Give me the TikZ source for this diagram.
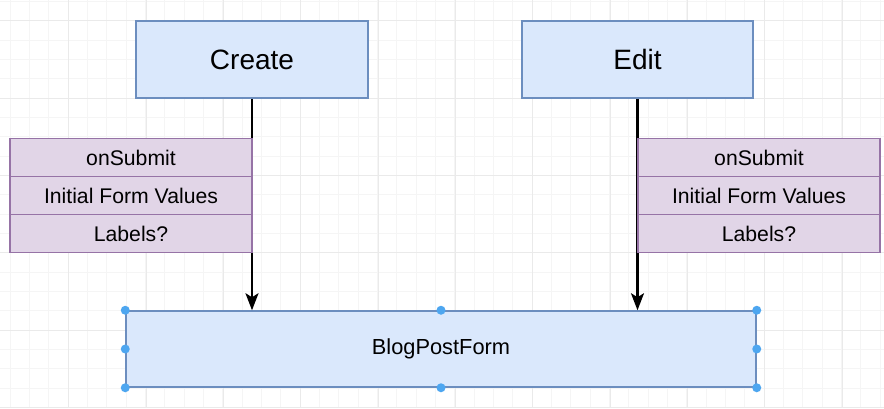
\documentclass[tikz,border=0pt]{standalone}
\usepackage{fontspec}
\setmainfont{Liberation Sans}
\usetikzlibrary{arrows.meta}
\definecolor{bluefill}{HTML}{DAE8FC}
\definecolor{bluedraw}{HTML}{6C8EBF}
\definecolor{purpfill}{HTML}{E1D5E7}
\definecolor{purpdraw}{HTML}{9673A6}
\definecolor{gridminor}{HTML}{F5F5F5}
\definecolor{gridmajor}{HTML}{EAEAEA}
\definecolor{handle}{HTML}{4DA6F0}
\tikzset{
  bluebox/.style={draw=bluedraw, fill=bluefill, line width=1.5pt, inner sep=0pt, align=center},
  listrow/.style={draw=purpdraw, fill=purpfill, line width=1.5pt, inner sep=0pt,
    minimum width=242pt, minimum height=38pt, font=\fontsize{21.2}{24}\selectfont},
  arr/.style={draw=black, line width=2.3pt, -{Stealth[length=17pt,width=13pt,inset=4pt]}},
  sel/.style={circle, fill=handle, inner sep=0pt, minimum size=9pt}
}
\begin{document}
\begin{tikzpicture}[x=1pt,y=-1pt]
\useasboundingbox (0,0) rectangle (884,408);
\fill[white] (0,0) rectangle (884,408);
% grid
\foreach \i in {0,...,45} {
  \draw[gridminor, line width=0.8pt] ({10+19.333*\i},0) -- ({10+19.333*\i},408);
}
\foreach \j in {0,...,21} {
  \draw[gridminor, line width=0.8pt] (0,{1.3+19.333*\j}) -- (884,{1.3+19.333*\j});
}
\foreach \i in {-1,...,11} {
  \draw[gridmajor, line width=0.9pt] ({68.7+77.333*\i},0) -- ({68.7+77.333*\i},408);
}
\foreach \j in {0,...,5} {
  \draw[gridmajor, line width=0.9pt] (0,{20.7+77.333*\j}) -- (884,{20.7+77.333*\j});
}
% top boxes
\node[bluebox, minimum width=232pt, minimum height=77pt, font=\fontsize{28}{32}\selectfont] (create) at (252,59.5) {Create};
\node[bluebox, minimum width=231pt, minimum height=77pt, font=\fontsize{28}{32}\selectfont] (edit) at (637.5,59.5) {Edit};
% bottom box
\node[bluebox, minimum width=630pt, minimum height=76pt, font=\fontsize{21.8}{26}\selectfont] (blog) at (441,349) {BlogPostForm};
% arrows
\draw[arr] (create.south) -- (create.south |- blog.north);
\draw[arr] (edit.south) -- (edit.south |- blog.north);
% left list
\node[listrow] (l1) at (131,157.5) {onSubmit};
\node[listrow] (l2) at (131,195.5) {Initial Form Values};
\node[listrow] (l3) at (131,233.5) {Labels?};
% right list
\node[listrow] (r1) at (759,157.5) {onSubmit};
\node[listrow] (r2) at (759,195.5) {Initial Form Values};
\node[listrow] (r3) at (759,233.5) {Labels?};
% selection handles
\foreach \a in {north west,north,north east,west,east,south west,south,south east} {
  \node[sel] at (blog.\a) {};
}
\end{tikzpicture}
\end{document}
